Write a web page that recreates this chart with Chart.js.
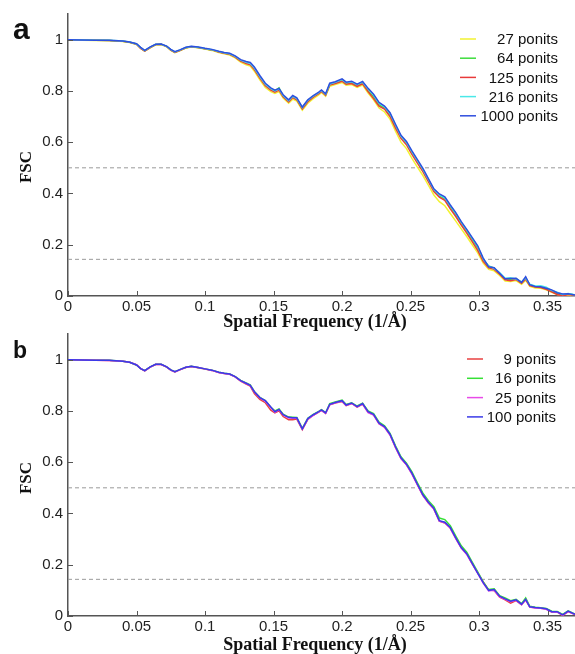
<!DOCTYPE html>
<html>
<head>
<meta charset="utf-8">
<script src="https://cdn.jsdelivr.net/npm/chart.js@4"></script>
<style>
body { margin: 0; background: #fff; }
#wrap { position: relative; width: 575px; height: 654px; }
canvas { position: absolute; left: 0; }
#chartA { top: 0; }
#chartB { top: 320px; }
</style>
</head>
<body>
<div id="wrap">
<canvas id="chartA" width="575" height="334"></canvas>
<canvas id="chartB" width="575" height="334"></canvas>
</div>
<script>
// spatial frequency samples (1/Å), shared by every curve
const xFreq = [0, 0.01, 0.02, 0.03, 0.04, 0.045, 0.05, 0.053, 0.056, 0.06,
  0.064, 0.068, 0.072, 0.075, 0.078, 0.082, 0.086, 0.09, 0.095, 0.1,
  0.105, 0.11, 0.114, 0.118, 0.122, 0.126, 0.13, 0.133, 0.136, 0.14,
  0.144, 0.148, 0.151, 0.154, 0.157, 0.161, 0.164, 0.167, 0.171, 0.175,
  0.179, 0.183, 0.185, 0.188, 0.191, 0.195, 0.2, 0.203, 0.207, 0.211,
  0.215, 0.219, 0.223, 0.227, 0.231, 0.235, 0.239, 0.243, 0.247, 0.251,
  0.255, 0.259, 0.263, 0.267, 0.271, 0.275, 0.279, 0.283, 0.287, 0.291,
  0.295, 0.299, 0.303, 0.307, 0.311, 0.315, 0.319, 0.323, 0.327, 0.331,
  0.334, 0.337, 0.341, 0.345, 0.349, 0.353, 0.357, 0.361, 0.365, 0.37];

// panel a
const fsc27 = [1.0, 0.998, 0.997, 0.997, 0.993, 0.989, 0.981, 0.966, 0.955, 0.968,
  0.98, 0.981, 0.972, 0.958, 0.949, 0.957, 0.967, 0.971, 0.968, 0.963,
  0.958, 0.95, 0.945, 0.94, 0.929, 0.912, 0.902, 0.897, 0.877, 0.843,
  0.813, 0.797, 0.79, 0.797, 0.772, 0.752, 0.768, 0.76, 0.725, 0.752,
  0.77, 0.784, 0.794, 0.779, 0.818, 0.825, 0.833, 0.822, 0.825, 0.814,
  0.823, 0.792, 0.765, 0.733, 0.718, 0.69, 0.643, 0.6, 0.575, 0.537,
  0.503, 0.47, 0.432, 0.394, 0.368, 0.352, 0.322, 0.292, 0.262, 0.232,
  0.2, 0.168, 0.128, 0.104, 0.098, 0.08, 0.058, 0.057, 0.06, 0.046,
  0.062, 0.038, 0.031, 0.03, 0.024, 0.014, 0.006, 0.002, 0.004, 0.002];
const fsc64 = [1.0, 0.999, 0.998, 0.997, 0.994, 0.99, 0.983, 0.968, 0.956, 0.97,
  0.981, 0.982, 0.974, 0.96, 0.951, 0.959, 0.968, 0.972, 0.969, 0.964,
  0.96, 0.953, 0.948, 0.944, 0.934, 0.918, 0.91, 0.906, 0.887, 0.854,
  0.824, 0.807, 0.8, 0.812, 0.78, 0.76, 0.777, 0.768, 0.733, 0.76,
  0.778, 0.791, 0.8, 0.785, 0.825, 0.831, 0.84, 0.829, 0.832, 0.821,
  0.831, 0.802, 0.777, 0.746, 0.733, 0.706, 0.662, 0.623, 0.596, 0.558,
  0.524, 0.49, 0.451, 0.412, 0.391, 0.379, 0.347, 0.317, 0.283, 0.252,
  0.22, 0.188, 0.142, 0.117, 0.109, 0.088, 0.066, 0.065, 0.068, 0.052,
  0.068, 0.043, 0.036, 0.035, 0.028, 0.02, 0.01, 0.004, 0.008, 0.004];
const fsc125 = [1.0, 0.998, 0.998, 0.997, 0.994, 0.99, 0.982, 0.966, 0.955, 0.969,
  0.981, 0.982, 0.973, 0.959, 0.95, 0.958, 0.968, 0.972, 0.969, 0.964,
  0.96, 0.952, 0.947, 0.943, 0.932, 0.916, 0.907, 0.902, 0.883, 0.85,
  0.82, 0.803, 0.795, 0.803, 0.777, 0.757, 0.774, 0.765, 0.73, 0.758,
  0.776, 0.789, 0.798, 0.783, 0.823, 0.829, 0.838, 0.826, 0.829, 0.818,
  0.828, 0.797, 0.77, 0.74, 0.729, 0.7, 0.655, 0.615, 0.59, 0.552,
  0.518, 0.485, 0.446, 0.407, 0.386, 0.373, 0.34, 0.31, 0.277, 0.245,
  0.212, 0.178, 0.135, 0.11, 0.104, 0.085, 0.063, 0.06, 0.064, 0.05,
  0.066, 0.041, 0.035, 0.033, 0.026, 0.016, 0.006, 0.0, 0.006, 0.003];
const fsc216 = [1.0, 0.999, 0.998, 0.998, 0.995, 0.991, 0.983, 0.969, 0.957, 0.971,
  0.982, 0.982, 0.974, 0.961, 0.952, 0.96, 0.969, 0.973, 0.97, 0.965,
  0.961, 0.954, 0.949, 0.945, 0.935, 0.92, 0.912, 0.907, 0.889, 0.856,
  0.826, 0.809, 0.8, 0.808, 0.782, 0.762, 0.779, 0.77, 0.735, 0.763,
  0.78, 0.793, 0.802, 0.787, 0.827, 0.834, 0.844, 0.832, 0.836, 0.824,
  0.834, 0.807, 0.784, 0.752, 0.738, 0.712, 0.667, 0.623, 0.599, 0.562,
  0.528, 0.494, 0.455, 0.415, 0.394, 0.383, 0.352, 0.322, 0.287, 0.257,
  0.225, 0.193, 0.145, 0.116, 0.108, 0.091, 0.069, 0.071, 0.066, 0.055,
  0.07, 0.046, 0.039, 0.04, 0.034, 0.022, 0.015, 0.006, 0.01, 0.005];
const fsc1000 = [1.0, 0.999, 0.998, 0.998, 0.995, 0.991, 0.984, 0.97, 0.958, 0.972,
  0.982, 0.983, 0.975, 0.962, 0.953, 0.961, 0.97, 0.974, 0.971, 0.966,
  0.962, 0.955, 0.95, 0.947, 0.937, 0.922, 0.915, 0.911, 0.893, 0.86,
  0.83, 0.812, 0.803, 0.81, 0.785, 0.765, 0.782, 0.773, 0.737, 0.765,
  0.782, 0.795, 0.804, 0.789, 0.83, 0.836, 0.847, 0.834, 0.838, 0.826,
  0.837, 0.81, 0.787, 0.755, 0.741, 0.715, 0.67, 0.627, 0.603, 0.566,
  0.532, 0.498, 0.458, 0.418, 0.398, 0.387, 0.355, 0.325, 0.29, 0.26,
  0.228, 0.196, 0.148, 0.114, 0.11, 0.089, 0.067, 0.068, 0.069, 0.053,
  0.075, 0.044, 0.037, 0.036, 0.03, 0.024, 0.013, 0.008, 0.009, 0.004];

// panel b
const fsc9 = [1.0, 0.999, 0.998, 0.997, 0.994, 0.99, 0.979, 0.965, 0.956, 0.971,
  0.981, 0.981, 0.971, 0.959, 0.952, 0.961, 0.969, 0.973, 0.968, 0.963,
  0.958, 0.95, 0.946, 0.943, 0.933, 0.916, 0.905, 0.897, 0.868, 0.845,
  0.832, 0.803, 0.792, 0.8, 0.778, 0.766, 0.766, 0.768, 0.727, 0.767,
  0.783, 0.795, 0.802, 0.79, 0.824, 0.831, 0.837, 0.821, 0.829, 0.815,
  0.827, 0.795, 0.785, 0.75, 0.737, 0.707, 0.658, 0.615, 0.59, 0.555,
  0.512, 0.471, 0.441, 0.418, 0.37, 0.363, 0.343, 0.303, 0.266, 0.242,
  0.203, 0.168, 0.133, 0.101, 0.099, 0.074, 0.063, 0.05, 0.06, 0.044,
  0.063, 0.035, 0.032, 0.03, 0.027, 0.016, 0.016, 0.002, 0.017, 0.006];
const fsc16 = [1.0, 0.999, 0.998, 0.998, 0.994, 0.99, 0.979, 0.966, 0.957, 0.972,
  0.982, 0.982, 0.972, 0.96, 0.953, 0.962, 0.97, 0.974, 0.969, 0.964,
  0.959, 0.951, 0.947, 0.944, 0.934, 0.919, 0.909, 0.902, 0.876, 0.853,
  0.84, 0.814, 0.8, 0.808, 0.787, 0.776, 0.775, 0.774, 0.732, 0.771,
  0.786, 0.798, 0.805, 0.793, 0.828, 0.835, 0.842, 0.825, 0.832, 0.819,
  0.83, 0.8, 0.79, 0.756, 0.742, 0.712, 0.664, 0.621, 0.596, 0.562,
  0.519, 0.479, 0.45, 0.426, 0.382, 0.376, 0.352, 0.312, 0.274, 0.249,
  0.21, 0.172, 0.133, 0.103, 0.106, 0.079, 0.07, 0.06, 0.065, 0.048,
  0.07, 0.038, 0.034, 0.032, 0.029, 0.019, 0.018, 0.006, 0.02, 0.008];
const fsc25 = [1.0, 0.999, 0.998, 0.997, 0.994, 0.99, 0.98, 0.966, 0.956, 0.971,
  0.982, 0.981, 0.972, 0.959, 0.952, 0.961, 0.97, 0.973, 0.969, 0.964,
  0.958, 0.95, 0.946, 0.943, 0.933, 0.917, 0.907, 0.899, 0.874, 0.851,
  0.838, 0.813, 0.795, 0.804, 0.784, 0.772, 0.771, 0.771, 0.729, 0.768,
  0.783, 0.796, 0.802, 0.79, 0.824, 0.832, 0.838, 0.822, 0.829, 0.816,
  0.827, 0.793, 0.784, 0.75, 0.736, 0.706, 0.658, 0.614, 0.59, 0.553,
  0.511, 0.47, 0.442, 0.417, 0.37, 0.364, 0.342, 0.302, 0.265, 0.24,
  0.203, 0.166, 0.128, 0.098, 0.1, 0.075, 0.065, 0.056, 0.061, 0.044,
  0.063, 0.035, 0.031, 0.03, 0.026, 0.016, 0.015, 0.003, 0.017, 0.006];
const fsc100 = [1.0, 0.999, 0.998, 0.998, 0.994, 0.99, 0.979, 0.965, 0.957, 0.972,
  0.982, 0.982, 0.972, 0.96, 0.953, 0.962, 0.97, 0.974, 0.969, 0.964,
  0.959, 0.951, 0.947, 0.944, 0.934, 0.918, 0.908, 0.9, 0.875, 0.852,
  0.84, 0.815, 0.797, 0.806, 0.785, 0.775, 0.773, 0.773, 0.73, 0.77,
  0.785, 0.797, 0.804, 0.792, 0.826, 0.833, 0.84, 0.823, 0.831, 0.817,
  0.829, 0.797, 0.787, 0.752, 0.739, 0.709, 0.66, 0.617, 0.592, 0.557,
  0.514, 0.473, 0.444, 0.42, 0.372, 0.366, 0.345, 0.305, 0.267, 0.243,
  0.205, 0.167, 0.13, 0.1, 0.103, 0.077, 0.067, 0.058, 0.063, 0.046,
  0.065, 0.036, 0.033, 0.031, 0.028, 0.017, 0.017, 0.004, 0.019, 0.007];

const thresholds = [0.5, 0.143];
const xTicks = [0, 0.05, 0.1, 0.15, 0.2, 0.25, 0.3, 0.35];
const yTicks = [0, 0.2, 0.4, 0.6, 0.8, 1];
const xMax = 0.37;
const yMax = 1.1;
const xTitle = 'Spatial Frequency (1/Å)';
const yTitle = 'FSC';

function series(label, vals, color, order) {
    return {
        label: label,
        data: xFreq.map((x, i) => ({x: x, y: vals[i]})),
        borderColor: color,
        borderWidth: 1.5,
        pointRadius: 0,
        tension: 0,
        fill: false,
        order: order,
        inLegend: true
    };
}

function guide(v) {
    return {
        label: '',
        data: [{x: 0, y: v}, {x: xMax, y: v}],
        borderColor: '#9a9a9a',
        borderWidth: 1,
        borderDash: [4, 3],
        pointRadius: 0,
        order: 10
    };
}

// titles, panel letter, inward ticks and the legend
const decor = {
    id: 'decor',
    afterDraw(chart, args, opts) {
        const ctx = chart.ctx;
        const xs = chart.scales.x, ys = chart.scales.y;
        const area = chart.chartArea;
        ctx.save();
        ctx.strokeStyle = '#555';
        ctx.lineWidth = 1;
        ctx.beginPath();
        xTicks.forEach(v => {
            const px = Math.round(xs.getPixelForValue(v)) + 0.5;
            ctx.moveTo(px, area.bottom);
            ctx.lineTo(px, area.bottom - 5);
        });
        yTicks.forEach(v => {
            const py = Math.round(ys.getPixelForValue(v)) + 0.5;
            ctx.moveTo(area.left, py);
            ctx.lineTo(area.left + 5, py);
        });
        ctx.stroke();

        ctx.fillStyle = '#111';
        ctx.font = opts.letterFont;
        ctx.textAlign = 'left';
        ctx.textBaseline = 'alphabetic';
        ctx.fillText(opts.letter, 13, opts.letterY);

        ctx.textAlign = 'center';
        ctx.textBaseline = 'middle';
        ctx.font = 'bold 18px "Liberation Serif"';
        ctx.fillText(xTitle, opts.xTitleX, opts.xTitleY);
        ctx.font = 'bold 17px "Liberation Serif"';
        ctx.save();
        ctx.translate(27, opts.yTitleY);
        ctx.rotate(-Math.PI / 2);
        ctx.fillText(yTitle, 0, 0);
        ctx.restore();

        ctx.font = '15px "Liberation Sans"';
        ctx.textAlign = 'right';
        let row = 0;
        chart.data.datasets.forEach(ds => {
            if (!ds.inLegend) return;
            const y = opts.legendY + row * opts.legendGap;
            ctx.strokeStyle = ds.borderColor;
            ctx.lineWidth = 1.5;
            ctx.beginPath();
            ctx.moveTo(opts.lineX, y);
            ctx.lineTo(opts.lineX + 16, y);
            ctx.stroke();
            ctx.fillStyle = '#111';
            ctx.fillText(ds.label, opts.textX, y + 1);
            row++;
        });
        ctx.restore();
    }
};

function makeScales(h) {
    const tickFont = {family: 'Liberation Sans', size: 15};
    return {
        x: {
            type: 'linear', min: 0, max: xMax,
            afterBuildTicks: s => { s.ticks = xTicks.map(v => ({value: v})); },
            afterFit: s => { s.height = h - 296; },
            grid: {display: false, drawTicks: false},
            border: {display: true, color: '#555', width: 1.5},
            ticks: {padding: 2, color: '#222', font: tickFont, maxRotation: 0, callback: v => String(v)}
        },
        y: {
            type: 'linear', min: 0, max: yMax,
            afterBuildTicks: s => { s.ticks = yTicks.map(v => ({value: v})); },
            afterFit: s => { s.width = 68; },
            grid: {display: false, drawTicks: false},
            border: {display: true, color: '#555', width: 1.5},
            ticks: {padding: 5, color: '#222', font: tickFont, callback: v => String(v)}
        }
    };
}

function baseOptions(h, decorOpts) {
    return {
        responsive: false,
        animation: false,
        layout: {padding: {top: 14, left: 0, right: 0, bottom: 0}},
        scales: makeScales(h),
        plugins: {legend: {display: false}, tooltip: {enabled: false}, decor: decorOpts}
    };
}

const chartA = new Chart(document.getElementById('chartA').getContext('2d'), {
    type: 'line',
    data: {
        datasets: [
            series('27 ponits', fsc27, '#f2f230', 4),
            series('64 ponits', fsc64, '#3ddc3d', 3),
            series('125 ponits', fsc125, '#e83a3a', 2),
            series('216 ponits', fsc216, '#4ae8e8', 1),
            series('1000 ponits', fsc1000, '#2f4ede', 0)
        ].concat(thresholds.map(guide))
    },
    options: baseOptions(334, {
        letter: 'a', letterFont: 'bold 30px "Liberation Sans"', letterY: 39,
        xTitleX: 315, xTitleY: 322, yTitleY: 167,
        legendY: 39, legendGap: 19.2, lineX: 460, textX: 558
    }),
    plugins: [decor]
});

const chartB = new Chart(document.getElementById('chartB').getContext('2d'), {
    type: 'line',
    data: {
        datasets: [
            series('9 ponits', fsc9, '#e84040', 3),
            series('16 ponits', fsc16, '#35e035', 2),
            series('25 ponits', fsc25, '#e84ae8', 1),
            series('100 ponits', fsc100, '#3a3ae8', 0)
        ].concat(thresholds.map(guide))
    },
    options: baseOptions(334, {
        letter: 'b', letterFont: 'bold 23px "Liberation Sans"', letterY: 38,
        xTitleX: 315, xTitleY: 325, yTitleY: 158,
        legendY: 39, legendGap: 19.3, lineX: 467, textX: 556
    }),
    plugins: [decor]
});
</script>
</body>
</html>
